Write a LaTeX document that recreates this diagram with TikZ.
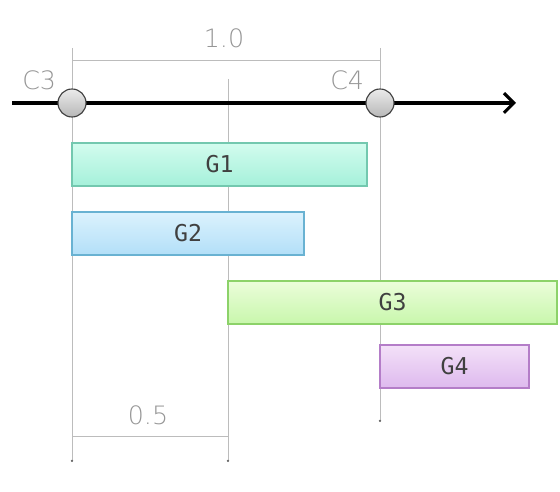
\documentclass[tikz,border=0pt]{standalone}
\usepackage{fontspec}
\setmainfont{Liberation Sans}
\newfontfamily\thinfont{DejaVu Sans ExtraLight}
\newfontfamily\barfont{DejaVu Sans Mono}
\usetikzlibrary{arrows.meta}
\definecolor{guidegray}{RGB}{188,188,188}
\definecolor{labelgray}{RGB}{150,150,150}
\definecolor{gonetop}{RGB}{210,252,238}
\definecolor{gonebot}{RGB}{165,240,218}
\definecolor{goneline}{RGB}{115,200,175}
\definecolor{gtwotop}{RGB}{220,242,253}
\definecolor{gtwobot}{RGB}{178,223,248}
\definecolor{gtwoline}{RGB}{105,178,210}
\definecolor{gthreetop}{RGB}{235,253,218}
\definecolor{gthreebot}{RGB}{200,247,172}
\definecolor{gthreeline}{RGB}{140,210,105}
\definecolor{gfourtop}{RGB}{243,225,248}
\definecolor{gfourbot}{RGB}{222,185,238}
\definecolor{gfourline}{RGB}{180,125,200}

\begin{document}
\begin{tikzpicture}
            \useasboundingbox (0,0) rectangle (14,12.3);
            \tikzset{guide/.style={draw=guidegray, line width=0.5pt},
                     guideend/.style={guide, -{Circle[length=1.6pt, fill=black!60, color=black!60]}},
                     lbl/.style={text=labelgray, font=\thinfont\fontsize{18}{20}\selectfont},
                     bar/.style={rectangle, line width=0.8pt, inner sep=0pt, outer sep=0pt,
                                 minimum height=1.075cm, font=\barfont\fontsize{16.5}{18}\selectfont,
                                 text=black!75},
                     knot/.style={circle, draw=black!75, line width=0.8pt, minimum size=0.7cm,
                                  inner sep=0pt, top color=black!8, bottom color=black!28}};

            \coordinate (c3top) at (1.8,11.1);
            \coordinate (c3bot) at (1.8,0.75);
            \coordinate (midtop) at (5.7,10.325);
            \coordinate (midbot) at (5.7,0.75);
            \coordinate (c4top) at (9.5,11.1);
            \coordinate (c4bot) at (9.5,1.75);
            \coordinate (dimoneL) at (1.8,10.8);
            \coordinate (dimoneR) at (9.5,10.8);
            \coordinate (dimhalfL) at (1.8,1.4);
            \coordinate (dimhalfR) at (5.7,1.4);
            \coordinate (axisL) at (0.3,9.725);
            \coordinate (axisR) at (12.9,9.725);

            \draw[guideend] (c3top) -- (c3bot);
            \draw[guideend] (midtop) -- (midbot);
            \draw[guideend] (c4top) -- (c4bot);
            \draw[guide] (dimoneL) -- (dimoneR);
            \draw[guide] (dimhalfL) -- (dimhalfR);

            \node[lbl] (one) at (5.6,11.35){1.0};
            \node[lbl] (half) at (3.7,1.925){0.5};
            \node[lbl] (c3lbl) at (0.98,10.3){C3};
            \node[lbl] (c4lbl) at (8.68,10.3){C4};

            \draw[line width=2.2pt, -{Straight Barb[length=7pt, width=14pt, line width=2.2pt]}] (axisL) -- (axisR);
            \node[knot] (c3) at (1.8,9.725){};
            \node[knot] (c4) at (9.5,9.725){};

            \node[bar, draw=goneline, top color=gonetop, bottom color=gonebot, minimum width=7.375cm] (g1) at (5.4875,8.1875){G1};
            \node[bar, draw=gtwoline, top color=gtwotop, bottom color=gtwobot, minimum width=5.8cm] (g2) at (4.7,6.4625){G2};
            \node[bar, draw=gthreeline, top color=gthreetop, bottom color=gthreebot, minimum width=8.225cm] (g3) at (9.8125,4.7375){G3};
            \node[bar, draw=gfourline, top color=gfourtop, bottom color=gfourbot, minimum width=3.725cm] (g4) at (11.3625,3.1375){G4};
          \end{tikzpicture}
\end{document}
